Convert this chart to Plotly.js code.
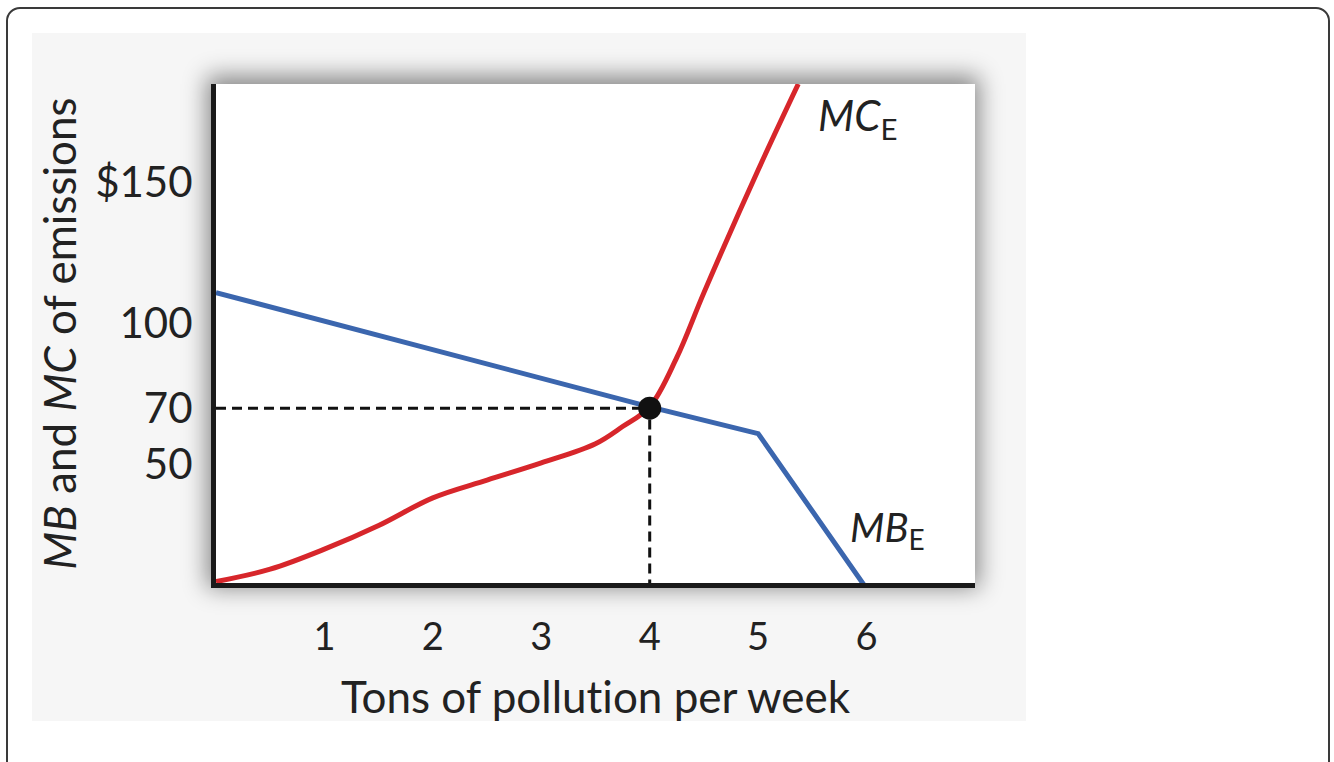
<!DOCTYPE html>
<html>
<head>
<meta charset="utf-8">
<script src="https://cdn.plot.ly/plotly-3.0.1.min.js"></script>
<style>
  html, body { margin: 0; padding: 0; background: #ffffff; width: 1334px; height: 762px; overflow: hidden; }
  #frame { position: absolute; left: 6px; top: 7px; width: 1320px; height: 800px; border: 2px solid #3a3a3a; border-radius: 14px; background: #ffffff; }
  #panel { position: absolute; left: 32px; top: 33px; width: 994px; height: 688px; background: #f6f6f6; }
  #plotbox { position: absolute; left: 211px; top: 84px; width: 764px; height: 504px; background: #ffffff; box-shadow: 0 -4px 22px 4px rgba(0,0,0,0.45); }
  #chart { position: absolute; left: 0; top: 0; width: 1334px; height: 762px; }
  #chart text { font-variant-ligatures: none; font-feature-settings: "liga" 0, "clig" 0; }
</style>
</head>
<body>
<div id="frame"></div>
<div id="panel"></div>
<div id="plotbox"></div>
<div id="chart"></div>
<script>
// Tons of pollution per week (x) and dollar values (y)
const tonsMC = [0, 0.5, 1, 1.5, 2, 2.5, 3, 3.5, 3.75, 4, 4.25, 4.5, 5, 5.37];
const mcValues = [8.5, 12.9, 20, 28.4, 38.2, 44.5, 50.6, 57.4, 63.5, 70.5, 88, 111, 154.5, 185];

const tonsMB = [0, 4, 5, 6];
const mbValues = [111, 70.5, 61, 6];

const eqTons = [4];
const eqValue = [70];

const xTicks = [1, 2, 3, 4, 5, 6];
const yTicks = [50, 70, 100, 150];
const yTickText = ['50', '70', '100', '$150'];

const font = 'Lato, "Open Sans", sans-serif';

const traces = [
  { x: [0, eqTons[0]], y: [eqValue[0], eqValue[0]], mode: 'lines',
    line: { color: '#111111', width: 3, dash: '10px,6px' }, hoverinfo: 'skip', showlegend: false },
  { x: [eqTons[0], eqTons[0]], y: [0, eqValue[0]], mode: 'lines',
    line: { color: '#111111', width: 3, dash: '10px,6px' }, hoverinfo: 'skip', showlegend: false },
  { x: tonsMB, y: mbValues, mode: 'lines', name: 'MB',
    line: { color: '#3b66ae', width: 5 }, showlegend: false },
  { x: tonsMC, y: mcValues, mode: 'lines', name: 'MC',
    line: { color: '#d7262b', width: 5, shape: 'spline', smoothing: 1.0 }, showlegend: false },
  { x: eqTons, y: eqValue, mode: 'markers', marker: { color: '#111111', size: 23 }, showlegend: false }
];

const layout = {
  width: 1334, height: 762,
  margin: { l: 216, r: 359, t: 84, b: 179 },
  paper_bgcolor: 'rgba(0,0,0,0)',
  plot_bgcolor: 'rgba(0,0,0,0)',
  font: { family: font, color: '#222222' },
  showlegend: false,
  xaxis: {
    range: [0, 7], showline: true, linecolor: '#1a1a1a', linewidth: 5,
    showgrid: false, zeroline: false, ticks: '',
    tickvals: xTicks, tickfont: { family: font, size: 38, color: '#222222' },
    ticklabelstandoff: 16,
    title: { text: 'Tons of pollution per week', font: { family: font, size: 44, color: '#222222' }, standoff: 27 }
  },
  yaxis: {
    range: [8, 185], showline: true, linecolor: '#1a1a1a', linewidth: 5,
    showgrid: false, zeroline: false, ticks: '',
    tickvals: yTicks, ticktext: yTickText, tickfont: { family: font, size: 42, color: '#222222' },
    ticklabelstandoff: 10,
    title: { text: '<i>MB</i> and <i>MC</i> of emissions', font: { family: font, size: 44, color: '#222222' }, standoff: 6 }
  },
  annotations: [
    { x: 5.53, y: 173, xref: 'x', yref: 'y', xanchor: 'left', yanchor: 'middle', showarrow: false,
      text: '<i>MC</i><sub>E</sub>', font: { family: font, size: 42, color: '#222222' } },
    { x: 5.83, y: 27, xref: 'x', yref: 'y', xanchor: 'left', yanchor: 'middle', showarrow: false,
      text: '<i>MB</i><sub>E</sub>', font: { family: font, size: 40, color: '#222222' } }
  ]
};

Plotly.newPlot('chart', traces, layout, { displayModeBar: false, staticPlot: true });
</script>
</body>
</html>
